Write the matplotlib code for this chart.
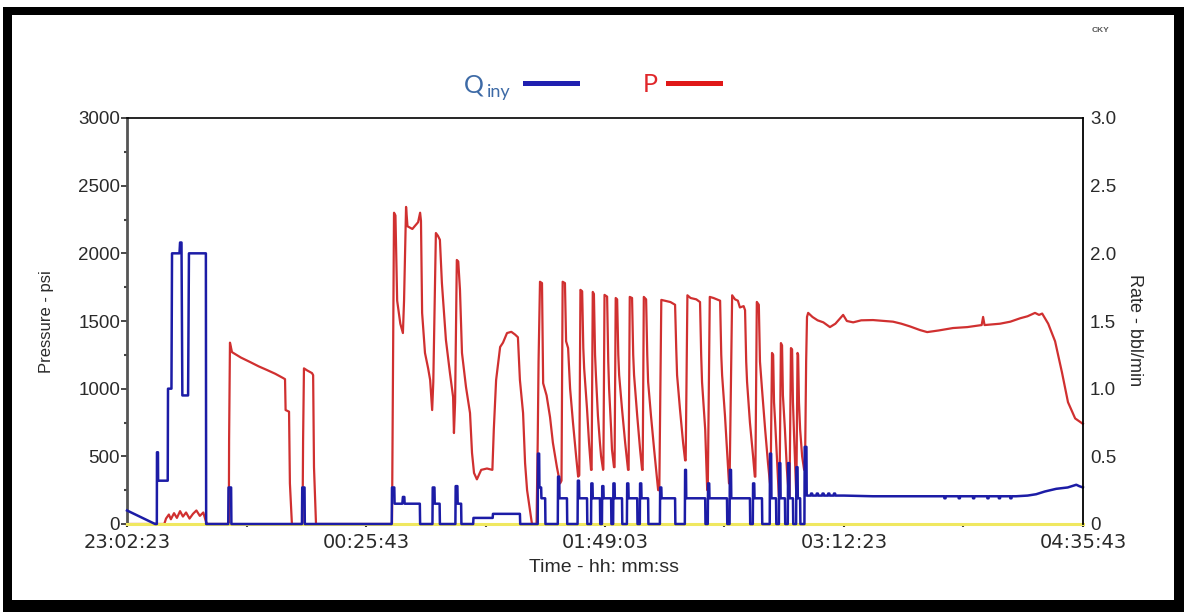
import matplotlib
matplotlib.use("Agg")
import matplotlib.pyplot as plt
from matplotlib.lines import Line2D
from matplotlib.patches import Rectangle
from matplotlib.ticker import FuncFormatter, MultipleLocator

plt.rcParams['font.family'] = ['Liberation Sans', 'DejaVu Sans']

# time axis: minutes after 23:02:23, 20000 s in total
start_sec = 23 * 3600 + 2 * 60 + 23
t_end = 20000 / 60.0
tick_step = 5000 / 60.0

# pressure (psi), (minute, psi)
pressure = [
    (0, 0), (13.0, 0), (13.6, 40), (14.6, 70), (15.3, 35), (16.4, 80), (17.4, 45),
    (18.5, 95), (19.5, 55), (20.6, 85), (21.8, 40), (23.0, 75), (24.2, 100),
    (25.4, 60), (26.6, 85), (27.5, 20), (28.0, 0),
    (35.5, 0), (35.6, 620), (35.9, 1340), (36.6, 1270), (39.7, 1230), (42.9, 1197),
    (45.9, 1165), (48.8, 1138), (51.7, 1110), (54.4, 1079), (55.1, 1070),
    (55.3, 842), (56.5, 830), (56.8, 300), (57.5, 0),
    (61.2, 0), (61.4, 620), (61.7, 1150), (62.8, 1135), (64.5, 1115), (64.9, 1100),
    (65.2, 420), (65.9, 0),
    (92.4, 0), (92.75, 1140), (93.1, 2300), (93.6, 2280), (94.2, 1650), (95.3, 1480),
    (96.2, 1411), (96.6, 1650), (97.3, 2343), (97.8, 2200), (99.5, 2180),
    (101.5, 2230), (102.2, 2300), (102.5, 2240), (102.9, 1560), (103.9, 1264),
    (105.0, 1150), (105.7, 1064), (106.4, 842), (106.8, 1050), (107.7, 2150),
    (108.4, 2130), (109.1, 2100), (109.8, 1780), (111.2, 1360), (112.6, 1116),
    (113.7, 939), (114.0, 672), (114.4, 900), (115.0, 1951), (115.5, 1940),
    (116.1, 1730), (116.8, 1264), (118.2, 1012), (119.6, 820), (120.3, 525),
    (121.0, 377), (122.0, 330), (123.5, 400), (125.5, 410), (127.4, 400),
    (127.9, 700), (128.7, 1064), (130.1, 1308), (131.1, 1340), (132.5, 1411),
    (134.0, 1420), (135.3, 1400), (136.3, 1380), (137.0, 1064), (138.1, 820),
    (138.8, 450), (139.5, 250), (141.2, 0),
    (142.8, 0), (143.2, 600), (143.5, 1200), (144.0, 1790), (144.7, 1780),
    (145.1, 1040), (146.3, 950), (147.5, 790), (148.5, 600), (149.9, 420), (151.0, 300),
    (151.5, 320), (151.9, 1790), (152.7, 1780), (153.1, 1350), (153.8, 1300),
    (154.5, 1000), (155.5, 750), (156.6, 500), (157.3, 350),
    (157.7, 360), (158.1, 1730), (158.7, 1720), (159.1, 1300), (159.4, 1150),
    (160.4, 850), (161.1, 600), (161.8, 400),
    (162.0, 400), (162.4, 1715), (162.8, 1700), (163.2, 1250), (163.5, 1100),
    (164.2, 800), (164.9, 600), (165.3, 500), (166.0, 400),
    (166.1, 410), (166.5, 1693), (167.4, 1680), (167.8, 1200), (168.1, 1000),
    (168.8, 700), (169.1, 550), (169.8, 420),
    (170.0, 420), (170.4, 1670), (170.9, 1660), (171.3, 1250), (171.6, 1100),
    (172.6, 850), (173.7, 600), (174.7, 400),
    (174.9, 400), (175.3, 1678), (176.1, 1670), (176.5, 1250), (176.8, 1100),
    (177.9, 800), (178.9, 550), (179.6, 400),
    (179.8, 400), (180.2, 1678), (181.0, 1660), (181.4, 1250), (181.7, 1050),
    (182.7, 800), (183.8, 550), (185.2, 250),
    (185.6, 250), (186.3, 1656), (187.5, 1650), (189.5, 1640), (191.1, 1620),
    (191.5, 1300), (191.8, 1100), (192.8, 850), (193.9, 600), (194.6, 470),
    (194.8, 470), (195.4, 1690), (196.5, 1670), (198.5, 1660), (199.8, 1640),
    (200.2, 1250), (200.5, 1050), (201.6, 700), (202.3, 250),
    (202.5, 250), (203.2, 1678), (204.5, 1670), (206.8, 1650), (207.2, 1250),
    (207.5, 1100), (208.5, 800), (209.2, 550), (209.9, 300),
    (210.1, 300), (211.0, 1690), (212.0, 1660), (213.0, 1650), (213.7, 1600),
    (215.0, 1610), (215.5, 1580), (215.9, 1200), (216.2, 1050), (217.2, 750),
    (218.3, 500), (218.9, 350),
    (219.1, 350), (219.6, 1641), (220.3, 1620), (220.7, 1200), (221.4, 1000),
    (222.5, 700), (223.5, 450), (224.2, 300),
    (224.4, 300), (224.9, 1264), (225.3, 1250), (225.6, 900), (226.0, 750),
    (226.7, 450), (227.3, 200),
    (227.5, 200), (228.0, 1337), (228.4, 1320), (228.7, 950), (229.4, 700),
    (230.1, 400), (230.8, 200),
    (231.0, 200), (231.5, 1300), (231.9, 1290), (232.2, 900), (232.6, 650), (233.3, 250),
    (233.4, 260), (233.8, 1264), (234.0, 1250), (234.3, 900), (234.7, 700),
    (235.4, 500), (236.1, 400),
    (236.4, 400), (236.8, 1200), (237.1, 1530), (237.5, 1560), (239.0, 1530),
    (240.8, 1505), (242.8, 1490), (245.1, 1455), (247.0, 1480), (249.7, 1545),
    (251.0, 1500), (253.2, 1490), (256.0, 1505), (260.1, 1507), (264.0, 1500),
    (267.1, 1495), (270.0, 1480), (273.0, 1460), (276.5, 1433), (279.0, 1418),
    (283.0, 1430), (288.0, 1448), (293.0, 1455), (298.0, 1470), (298.5, 1530),
    (299.0, 1470), (304.4, 1480), (308.0, 1495), (311.4, 1520), (314.0, 1535),
    (316.6, 1560), (318.0, 1545), (319.1, 1555), (321.2, 1480), (323.6, 1350),
    (326.0, 1120), (328.1, 900), (330.6, 780), (333.3, 740),
]

# injection rate (bbl/min), (minute, rate)
rate = [
    (0, 0.10), (9.8, 0), (10.4, 0), (10.45, 0.53), (10.8, 0.53), (10.85, 0.32),
    (14.2, 0.32), (14.3, 1.0), (15.5, 1.0), (15.7, 2.0), (18.3, 2.0), (18.5, 2.08),
    (19.0, 2.08), (19.3, 0.95), (21.3, 0.95), (21.6, 2.0), (27.5, 2.0), (27.6, 0),
    (35.3, 0), (35.4, 0.27), (36.3, 0.27), (36.4, 0),
    (61.0, 0), (61.1, 0.27), (61.9, 0.27), (62.0, 0),
    (92.3, 0), (92.4, 0.27), (93.2, 0.27), (93.3, 0.15), (96.0, 0.15), (96.2, 0.2),
    (96.7, 0.2), (96.8, 0.15), (102.1, 0.15), (102.2, 0),
    (106.5, 0), (106.6, 0.27), (107.2, 0.27), (107.3, 0.15), (109.0, 0.15), (109.1, 0),
    (114.5, 0), (114.6, 0.28), (115.2, 0.28), (115.3, 0.15), (116.5, 0.15), (116.6, 0),
    (120.7, 0), (120.8, 0.045), (127.5, 0.045), (127.6, 0.075), (137.0, 0.075), (137.1, 0),
    (143.2, 0), (143.3, 0.52), (143.7, 0.52), (143.8, 0.27), (144.4, 0.27),
    (144.5, 0.19), (145.8, 0.19), (145.9, 0),
    (150.2, 0), (150.3, 0.35), (150.7, 0.35), (150.8, 0.19), (153.4, 0.19), (153.5, 0),
    (157.1, 0), (157.2, 0.32), (157.6, 0.32), (157.7, 0.19), (160.4, 0.19), (160.5, 0),
    (161.8, 0), (161.9, 0.30), (162.3, 0.30), (162.4, 0.19), (164.9, 0.19), (165.0, 0),
    (165.6, 0), (165.7, 0.28), (166.1, 0.28), (166.2, 0.19), (168.8, 0.19), (168.9, 0),
    (169.5, 0), (169.6, 0.30), (170.0, 0.30), (170.1, 0.19), (172.6, 0.19), (172.7, 0),
    (174.3, 0), (174.4, 0.30), (174.8, 0.30), (174.9, 0.19), (177.9, 0.19), (178.0, 0),
    (178.8, 0), (178.9, 0.30), (179.3, 0.30), (179.4, 0.19), (181.7, 0.19), (181.8, 0),
    (185.8, 0), (185.9, 0.27), (186.3, 0.27), (186.4, 0.19), (191.1, 0.19), (191.2, 0),
    (194.5, 0), (194.6, 0.40), (194.9, 0.40), (195.0, 0.19), (201.6, 0.19), (201.7, 0),
    (202.5, 0), (202.6, 0.30), (203.0, 0.30), (203.1, 0.19), (209.2, 0.19), (209.3, 0),
    (210.1, 0), (210.2, 0.40), (210.6, 0.40), (210.7, 0.19), (217.2, 0.19), (217.3, 0),
    (218.2, 0), (218.3, 0.30), (218.7, 0.30), (218.8, 0.19), (221.4, 0.19), (221.5, 0),
    (224.1, 0), (224.2, 0.52), (224.6, 0.52), (224.7, 0.19), (226.3, 0.19), (226.4, 0),
    (227.3, 0), (227.4, 0.45), (227.8, 0.45), (227.9, 0.19), (229.4, 0.19), (229.5, 0),
    (230.4, 0), (230.5, 0.45), (230.9, 0.45), (231.0, 0.19), (232.2, 0.19), (232.3, 0),
    (233.3, 0), (233.4, 0.42), (233.8, 0.42), (233.9, 0.19), (234.7, 0.19), (234.8, 0),
    (236.2, 0), (236.3, 0.57), (236.9, 0.57), (237.0, 0.21),
    (238.4, 0.21), (238.5, 0.225), (238.9, 0.225), (239.0, 0.21),
    (240.4, 0.21), (240.5, 0.225), (240.9, 0.225), (241.0, 0.21),
    (242.4, 0.21), (242.5, 0.225), (242.9, 0.225), (243.0, 0.21),
    (244.4, 0.21), (244.5, 0.225), (244.9, 0.225), (245.0, 0.21),
    (246.4, 0.21), (246.5, 0.225), (246.9, 0.225), (247.0, 0.21),
    (250.0, 0.21), (260.0, 0.205), (284.9, 0.205), (285.0, 0.19), (285.4, 0.19),
    (285.5, 0.205), (289.9, 0.205), (290.0, 0.19), (290.4, 0.19), (290.5, 0.205),
    (294.9, 0.205), (295.0, 0.19), (295.4, 0.19), (295.5, 0.205),
    (299.9, 0.205), (300.0, 0.19), (300.4, 0.19), (300.5, 0.205),
    (303.9, 0.205), (304.0, 0.19), (304.4, 0.19), (304.5, 0.205),
    (307.9, 0.205), (308.0, 0.19), (308.4, 0.19), (308.5, 0.205),
    (310.0, 0.205), (314.0, 0.21), (317.0, 0.22),
    (320.0, 0.24), (324.0, 0.26), (328.0, 0.27), (331.0, 0.29), (332.0, 0.28),
    (333.3, 0.27),
]

press_t, press_psi = zip(*pressure)
rate_t, rate_bpm = zip(*rate)


def clock(x, pos):
    s = int(round(start_sec + x * 60)) % 86400
    return '%02d:%02d:%02d' % (s // 3600, s // 60 % 60, s % 60)


W, H = 1184, 612
fig = plt.figure(figsize=(W / 100, H / 100), dpi=100)
ax = fig.add_axes([127 / W, 1 - 524 / H, 956 / W, 406 / H])
ax2 = ax.twinx()

ax.plot(press_t, press_psi, color='#d03030', lw=1.6, clip_on=False)
ax2.plot([0, t_end], [0, 0], color='#f0e860', lw=2.2, clip_on=False, zorder=1)
ax2.plot(rate_t, rate_bpm, color='#1c1ca6', lw=1.8, clip_on=False, zorder=2)

ax.set_xlim(0, t_end)
ax.set_ylim(0, 3000)
ax2.set_ylim(0, 3)

ax.set_xticks([i * tick_step for i in range(5)])
ax.set_xticks([(i + 0.5) * tick_step for i in range(4)], minor=True)
ax.xaxis.set_major_formatter(FuncFormatter(clock))
ax.yaxis.set_major_locator(MultipleLocator(500))
ax.yaxis.set_minor_locator(MultipleLocator(250))
ax2.yaxis.set_major_locator(MultipleLocator(0.5))
ax2.yaxis.set_major_formatter(FuncFormatter(lambda v, p: '0' if v == 0 else '%.1f' % v))

txt = '#2a2a2a'
ax.tick_params(axis='y', which='major', length=4, width=1.2, colors=txt, labelsize=13.5, pad=1)
ax.tick_params(axis='y', which='minor', length=2, width=1.5, colors='#444')
ax.tick_params(axis='x', which='major', length=2.5, width=1.5, colors=txt, labelsize=14, pad=4)
ax.tick_params(axis='x', which='minor', length=2, width=1.5, colors='#444')
ax2.tick_params(axis='y', length=0, colors=txt, labelsize=13.5, pad=5)
for lab in ax.get_xticklabels():
    lab.set_family(['DejaVu Sans'])

for a in (ax, ax2):
    a.spines['bottom'].set_visible(False)
ax.spines['right'].set_visible(False)
ax2.spines['left'].set_visible(False)
ax2.spines['top'].set_visible(False)
ax.spines['top'].set_linewidth(1.2)
ax.spines['left'].set_linewidth(2.0)
ax.spines['left'].set_color('#555555')
ax2.spines['right'].set_linewidth(1.3)

fig.text(47 / W, 1 - 322 / H, 'Pressure - psi', rotation=90, ha='center', va='center',
         fontsize=12, color=txt)
fig.text(1134 / W, 1 - 330 / H, 'Rate - bbl/min', rotation=270, ha='center', va='center',
         fontsize=13, color=txt)
fig.text(604 / W, 1 - 568 / H, 'Time - hh: mm:ss', ha='center', va='center',
         fontsize=14, color=txt)

# legend drawn as in the source image
fig.text(464 / W, 1 - 92 / H, 'Q', fontsize=18, color='#3d6aa6', family=['Lato', 'DejaVu Sans'])
fig.text(487 / W, 1 - 97 / H, 'iny', fontsize=13, color='#3d6aa6', family=['Lato', 'DejaVu Sans'])
fig.add_artist(Line2D([525 / W, 577 / W], [1 - 83 / H, 1 - 83 / H], color='#2020b0', lw=3.6))
fig.text(643 / W, 1 - 92 / H, 'P', fontsize=18, color='#e0262a', family=['Lato', 'DejaVu Sans'])
fig.add_artist(Line2D([668 / W, 720 / W], [1 - 83 / H, 1 - 83 / H], color='#e01818', lw=3.6))
fig.text(1101 / W, 1 - 30 / H, 'CKY', fontsize=6, color='#555555', ha='center', va='center',
         fontweight='bold')

# thick black frame around the picture
for x0, y0, x1, y1 in [(3, 7, 12, 612), (3, 7, 1184, 15), (1174, 7, 1184, 612), (3, 600, 1184, 612)]:
    fig.add_artist(Rectangle((x0 / W, 1 - y1 / H), (x1 - x0) / W, (y1 - y0) / H,
                             transform=fig.transFigure, color='black', lw=0))

fig.savefig('out.png', dpi=100)
